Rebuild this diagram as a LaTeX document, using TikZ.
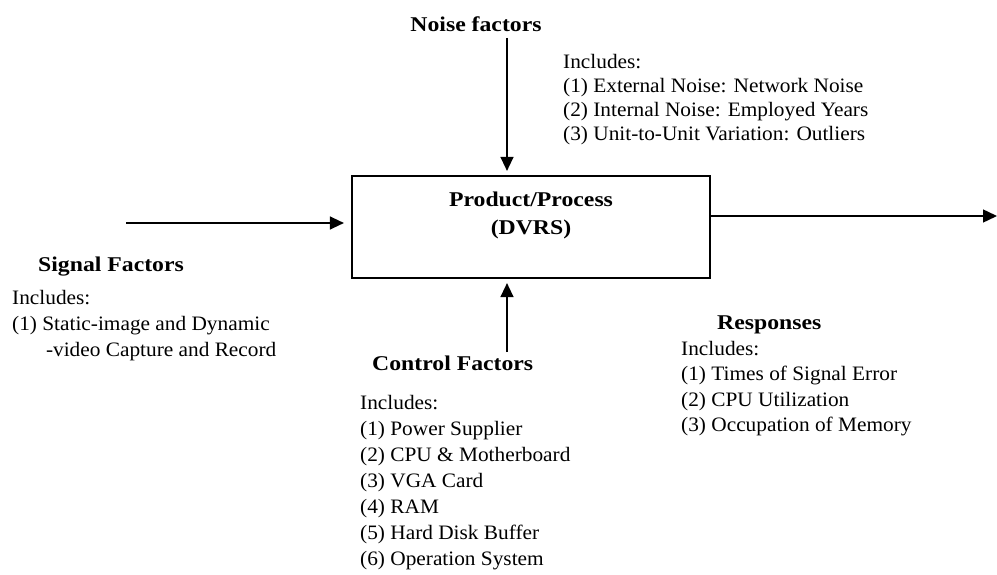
\documentclass[tikz,border=0pt]{standalone}
\usepackage{fontspec}
\setmainfont{Liberation Serif}
\newfontfamily\bodyfont[FakeStretch=1.04]{Liberation Serif}
\newfontfamily\headfont[FakeStretch=1.13]{Liberation Serif Bold}
\usetikzlibrary{arrows.meta}
\tikzset{
  body/.style={inner sep=0pt, align=left, anchor=north west,
    font=\bodyfont\fontsize{20.5}{#1}\selectfont},
  body/.default=26,
  heading/.style={inner sep=0pt, font=\headfont\fontsize{21}{28}\selectfont},
  flow/.style={line width=1.4pt, -{Triangle[length=14pt,width=13pt]}},
  procbox/.style={draw, line width=2.2pt, rectangle, minimum width=358pt,
    minimum height=102pt, inner sep=0pt}
}
\begin{document}
\begin{tikzpicture}[x=1pt,y=-1pt]
\useasboundingbox (0,0) rectangle (997,575);

% central block
\node[procbox] (proc) at (531,227) {};
\node[heading, align=center, anchor=north] (title) at (531,192)
  {Product/Process\\(DVRS)};

% noise factors
\node[heading, anchor=base] (noiseh) at (476,32) {Noise factors};
\node[body=24] (noise) at (563,54) {Includes:\\
(1) External Noise: Network Noise\\
(2) Internal Noise: Employed Years\\
(3) Unit-to-Unit Variation: Outliers};
\coordinate (noisestart) at (507,38);
\draw[flow, shorten >=4pt] (noisestart) -- (noisestart |- proc.north);

% signal factors
\coordinate (sigstart) at (126,223);
\draw[flow, shorten >=7pt] (sigstart) -- (sigstart -| proc.west);
\node[heading, anchor=base west] (sigh) at (38,271) {Signal Factors};
\node[body] (sig) at (12,290) {Includes:\\
(1) Static-image and Dynamic\\
\hspace*{1.65em}-video Capture and Record};

% control factors
\coordinate (ctlstart) at (507,352);
\draw[flow, shorten >=4pt] (ctlstart) -- (ctlstart |- proc.south);
\node[heading, anchor=base west] (ctlh) at (372,370) {Control Factors};
\node[body] (ctl) at (360,395) {Includes:\\
(1) Power Supplier\\
(2) CPU \& Motherboard\\
(3) VGA Card\\
(4) RAM\\
(5) Hard Disk Buffer\\
(6) Operation System};

% responses
\coordinate (respend) at (997,216);
\draw[flow] (respend -| proc.east) -- (respend);
\node[heading, anchor=base west] (resph) at (717,329) {Responses};
\node[body=25.5] (resp) at (681,341) {Includes:\\
(1) Times of Signal Error\\
(2) CPU Utilization\\
(3) Occupation of Memory};
\end{tikzpicture}
\end{document}
